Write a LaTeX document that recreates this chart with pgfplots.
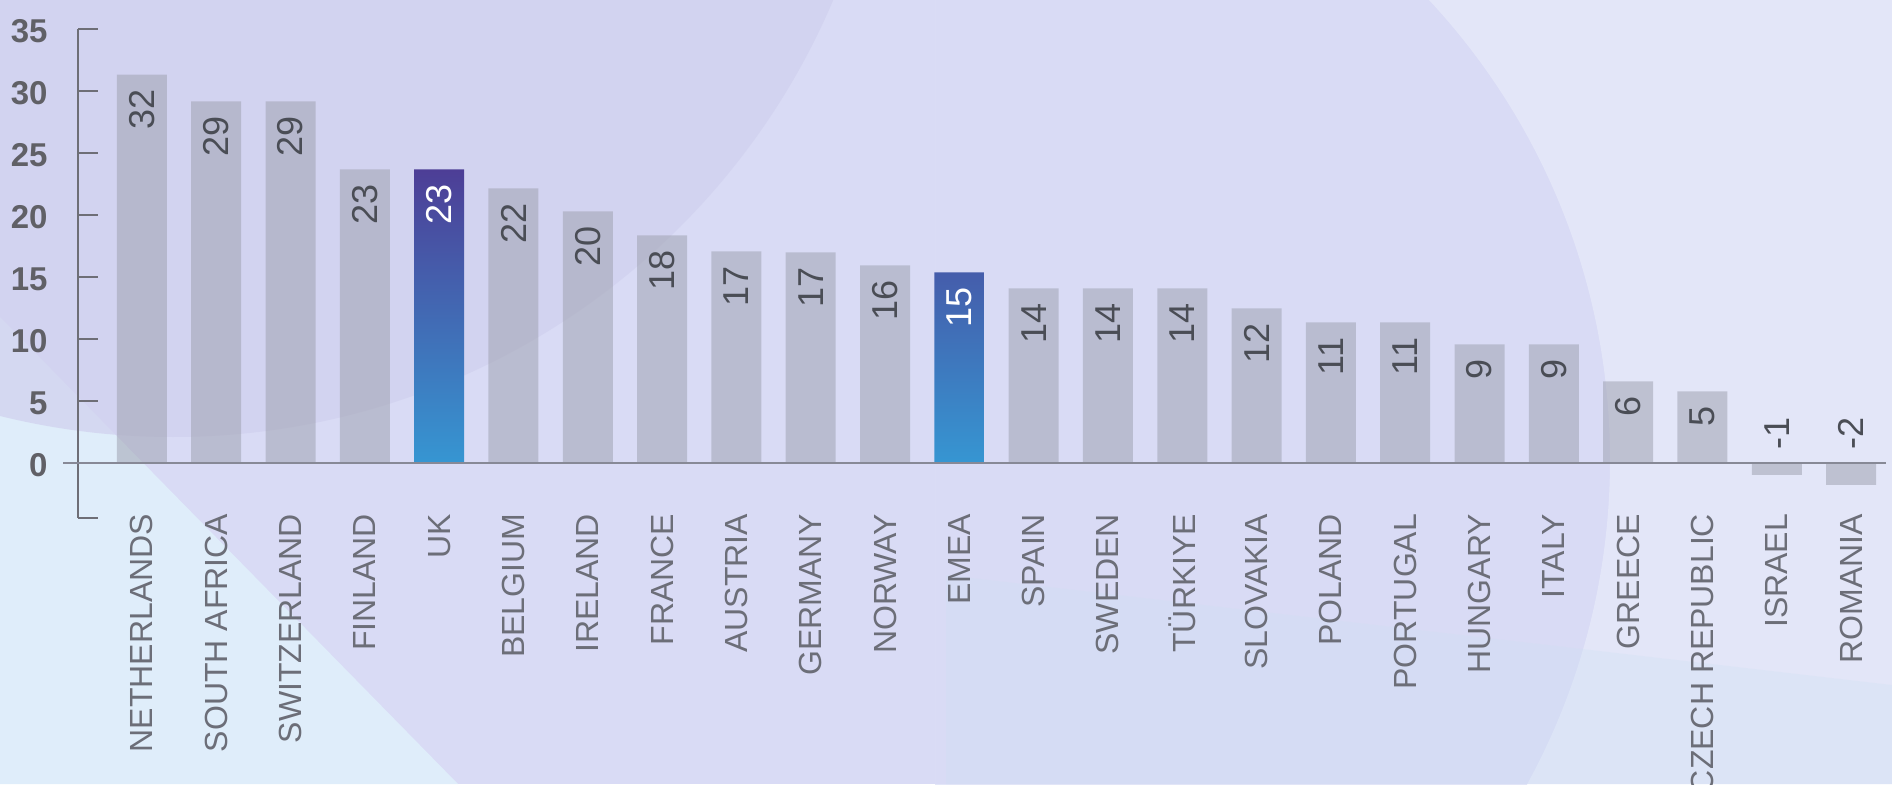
\documentclass[border=0pt]{standalone}
\usepackage{pgfplots}
\pgfplotsset{compat=1.18}
\usepackage{pgfplotstable}
\usepackage{fontspec}
\setmainfont{Liberation Sans}
\definecolor{bgbase}{HTML}{E3E6F8}
\definecolor{circA}{HTML}{D0D0EE}
\definecolor{circB}{HTML}{D9DBF5}
\definecolor{lightblue}{HTML}{DFEDFA}
\definecolor{bandblue}{HTML}{CFE1F4}
\definecolor{bargray}{RGB}{160,163,178}
\definecolor{hitop}{RGB}{77,62,150}
\definecolor{hibot}{RGB}{54,150,210}
\definecolor{axisgray}{RGB}{110,110,118}
\definecolor{zerogray}{RGB}{135,137,150}
\definecolor{ticktext}{RGB}{96,96,102}
\definecolor{cattext}{RGB}{108,110,120}
\definecolor{valtext}{RGB}{74,77,85}

\pgfplotstableread{
x y label
0 31.33 32
1 29.16 29
2 29.16 29
3 23.68 23
5 22.15 22
6 20.30 20
7 18.37 18
8 17.08 17
9 17.00 17
10 15.95 16
12 14.10 14
13 14.10 14
14 14.10 14
15 12.49 12
16 11.36 11
17 11.36 11
18 9.59 9
19 9.59 9
20 6.60 6
21 5.80 5
}\graypos
\pgfplotstableread{
x y
22 -0.93
23 -1.73
}\grayneg
\pgfplotstableread{
x y label
4 23.68 23
11 15.39 15
}\highlight
\pgfplotstableread{
x y label
22 0 -1
23 0 -2
}\neglabels

\begin{document}
\begin{tikzpicture}
\path[use as bounding box] (0,0) rectangle (946pt,392pt);
\clip (0,0) rectangle (946pt,392pt);
\fill[circB] (0,0) rectangle (946pt,392pt);
\begin{scope}
  \clip (467.5pt,0) rectangle (946pt,392pt);
  \fill[bgbase, even odd rule] (467.5pt,0) rectangle (946pt,392pt) (467.5pt,162pt) circle[radius=337.5pt];
\end{scope}
\fill[bandblue, opacity=0.3] (473pt,104.5pt) -- (946pt,49.5pt) -- (946pt,0) -- (473pt,0) -- cycle;
\fill[lightblue] (0,233.5pt) -- (229pt,0) -- (0,0) -- cycle;
\fill[circA, opacity=0.7] (86.5pt,532pt) circle[radius=358.5pt];
\begin{axis}[
  at={(39pt,133pt)}, anchor=south west,
  scale only axis, width=904pt, height=244.5pt,
  xmin=-0.86, xmax=23.47, ymin=-4.4, ymax=35,
  clip=false,
  axis x line=bottom, axis y line=left,
  axis line style={-},
  x axis line style={draw=none},
  y axis line style={-, draw=axisgray, line width=1pt},
  xtick={0,...,23},
  xticklabels={NETHERLANDS, SOUTH AFRICA, SWITZERLAND, FINLAND, UK, BELGIUM, IRELAND, FRANCE, AUSTRIA, GERMANY, NORWAY, EMEA, SPAIN, SWEDEN, TÜRKIYE, SLOVAKIA, POLAND, PORTUGAL, HUNGARY, ITALY, GREECE, CZECH REPUBLIC, ISRAEL, ROMANIA},
  x tick style={draw=none},
  ytick={0,5,...,35},
  extra y ticks={-4.4}, extra y tick labels={},
  y tick style={draw=axisgray, line width=1pt},
  tick align=inside,
  major tick length=10pt,
  /pgf/number format/assume math mode=true,
  yticklabel style={font=\fontsize{16.5}{16.5}\selectfont\bfseries, text=ticktext, inner sep=0pt, anchor=east, xshift=-15pt, yshift=-1pt},
  xticklabel style={font=\fontsize{16}{16}\selectfont, text=cattext, inner sep=0pt, yshift=12.25pt, rotate=90, anchor=east},
  ybar, bar width=25pt, bar shift=0pt,
]
\addplot[ybar, bar shift=0pt, bar width=25pt, draw=none, fill=bargray, fill opacity=0.55,
  nodes near coords, point meta=explicit symbolic,
  every node near coord/.append style={font=\fontsize{18}{18}\selectfont, text=valtext, text opacity=1, inner sep=0pt, yshift=-7.5pt, rotate=90, anchor=east}]
  table[x=x, y=y, meta=label] {\graypos};
\addplot[ybar, bar shift=0pt, bar width=25pt, draw=none, fill=bargray, fill opacity=0.55]
  table[x=x, y=y] {\grayneg};
\addplot[ybar, bar shift=0pt, bar width=25pt, draw=none, top color=hitop, bottom color=hibot,
  nodes near coords, point meta=explicit symbolic,
  every node near coord/.append style={font=\fontsize{18}{18}\selectfont, text=white, inner sep=0pt, yshift=-7.5pt, rotate=90, anchor=east}]
  table[x=x, y=y, meta=label] {\highlight};
\addplot[ybar, bar shift=0pt, bar width=25pt, draw=none, fill=none,
  nodes near coords, point meta=explicit symbolic,
  every node near coord/.append style={font=\fontsize{18}{18}\selectfont, text=valtext, inner sep=0pt, yshift=6.75pt, rotate=90, anchor=west}]
  table[x=x, y=y, meta=label] {\neglabels};
\draw[zerogray, line width=1pt] (axis cs:-1.06,0) -- (axis cs:23.47,0);
\end{axis}
\end{tikzpicture}
\end{document}
